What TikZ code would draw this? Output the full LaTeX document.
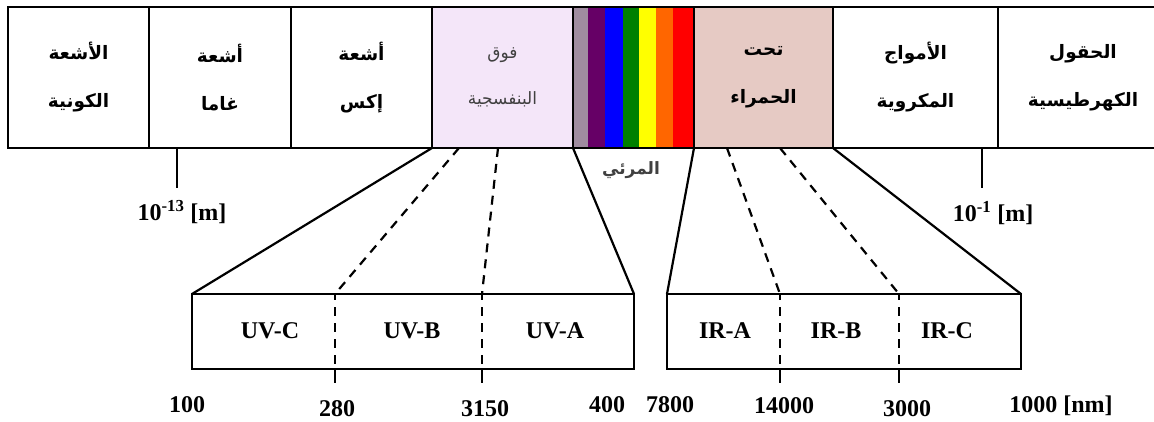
\documentclass[tikz,border=0pt]{standalone}
\usepackage{fontspec}
\usetikzlibrary{calc}
\setmainfont{Liberation Serif}
\newfontfamily\arabicfont[Script=Arabic]{DejaVu Sans}
\TeXXeTstate=1
\newcommand\arline[1]{\beginR #1\endR}
\definecolor{uvfill}{HTML}{F4E6F9}
\definecolor{irfill}{HTML}{E6CAC4}
\definecolor{uvtext}{HTML}{404040}
\definecolor{sgray}{HTML}{A08CA0}
\definecolor{spurple}{HTML}{660066}
\definecolor{sblue}{HTML}{0000FF}
\definecolor{sgreen}{HTML}{008000}
\definecolor{syellow}{HTML}{FFFF00}
\definecolor{sorange}{HTML}{FF6600}
\definecolor{sred}{HTML}{FF0000}
\begin{document}
\begin{tikzpicture}[x=1pt,y=-1pt,
  band/.style={draw, line width=2.8pt, minimum height=141pt, anchor=north west,
    inner sep=0pt, outer sep=0pt, align=center,
    font=\arabicfont\bfseries\fontsize{18.5}{48}\selectfont},
  subbox/.style={draw, line width=2.8pt, minimum height=75pt, anchor=north west,
    inner sep=0pt, outer sep=0pt},
  lat/.style={inner sep=0pt, font=\bfseries\fontsize{24}{28}\selectfont},
  fan/.style={line width=2.2pt},
  fandash/.style={line width=2.2pt, dash pattern=on 9pt off 7pt},
  tick/.style={line width=2.4pt}]
\useasboundingbox (0,0) rectangle (1154,422);

% colour stripes of the visible band
\fill[sgray]    (573,7) rectangle (588,148);
\fill[spurple]  (588,7) rectangle (605,148);
\fill[sblue]    (605,7) rectangle (623,148);
\fill[sgreen]   (623,7) rectangle (639,148);
\fill[syellow]  (639,7) rectangle (656,148);
\fill[sorange]  (656,7) rectangle (673,148);
\fill[sred]     (673,7) rectangle (694,148);

% main spectrum band
\node[band, minimum width=141pt] (cosmic) at (8,7) {\arline{الأشعة}\\\arline{الكونية}};
\node[band, minimum width=142pt] (gamma) at (149,7) {\arline{أشعة}\\\arline{غاما}};
\node[band, minimum width=141pt] (xray) at (291,7) {\arline{أشعة}\\\arline{إكس}};
\node[band, minimum width=141pt, fill=uvfill,
  font=\arabicfont\color{uvtext}\fontsize{17}{46}\selectfont] (uv) at (432,7)
  {\arline{فوق}\\\arline{البنفسجية}};
\node[band, minimum width=121pt] (visible) at (573,7) {};
\node[band, minimum width=139pt, fill=irfill] (ir) at (694,7) {\arline{تحت}\\\arline{الحمراء}};
\node[band, minimum width=165pt] (micro) at (833,7) {\arline{الأمواج}\\\arline{المكروية}};
\node[band, minimum width=170pt] (static) at (998,7) {\arline{الحقول}\\\arline{الكهرطيسية}};

\node[font=\arabicfont\bfseries\fontsize{17}{20}\selectfont, text=uvtext] (vislbl) at (631,170) {\arline{المرئي}};

% wavelength marks on the band
\coordinate (t1) at (177,148);
\coordinate (t2) at (982,148);
\node[lat] (m13) at (182,212) {10\textsuperscript{-13} [m]};
\node[lat] (m1) at (993,213) {10\textsuperscript{-1} [m]};
\draw[tick] (t1) -- ++(0,40);
\draw[tick] (t2) -- ++(0,40);

% expanded ultraviolet and infrared ranges
\node[subbox, minimum width=442pt] (uvbox) at (192,294) {};
\node[subbox, minimum width=354pt] (irbox) at (667,294) {};

\coordinate (uvd1) at (459,148);
\coordinate (uvd2) at (498,148);
\coordinate (ird1) at (727,148);
\coordinate (ird2) at (780,148);
\coordinate (uvcb) at (335,294);
\coordinate (uvba) at (482,294);
\coordinate (irab) at (780,294);
\coordinate (irbc) at (899,294);

\draw[fan] (uv.south west) -- (uvbox.north west);
\draw[fan] (uv.south east) -- (uvbox.north east);
\draw[fan] (ir.south west) -- (irbox.north west);
\draw[fan] (ir.south east) -- (irbox.north east);
\draw[fandash] (uvd1) -- (uvcb);
\draw[fandash] (uvd2) -- (uvba);
\draw[fandash] (ird1) -- (irab);
\draw[fandash] (ird2) -- (irbc);

% range dividers and their end ticks
\foreach \c in {uvcb,uvba,irab,irbc}{
  \draw[fandash, dash phase=3pt] (\c) -- ++(0,75);
  \draw[tick] ($(\c)+(0,75)$) -- ++(0,14);
}

\node[lat] (uvc) at (270,331) {UV-C};
\node[lat] (uvb) at (412,331) {UV-B};
\node[lat] (uva) at (555,331) {UV-A};
\node[lat] (ira) at (725,331) {IR-A};
\node[lat] (irb) at (836,331) {IR-B};
\node[lat] (irc) at (947,331) {IR-C};

\node[lat] (n100) at (187,405) {100};
\node[lat] (n280) at (337,409) {280};
\node[lat] (n3150) at (485,409) {3150};
\node[lat] (n400) at (607,405) {400};
\node[lat] (n7800) at (670,405) {7800};
\node[lat] (n14000) at (784,406) {14000};
\node[lat] (n3000) at (907,409) {3000};
\node[lat] (n1000) at (1061,406) {1000 [nm]};
\end{tikzpicture}
\end{document}
